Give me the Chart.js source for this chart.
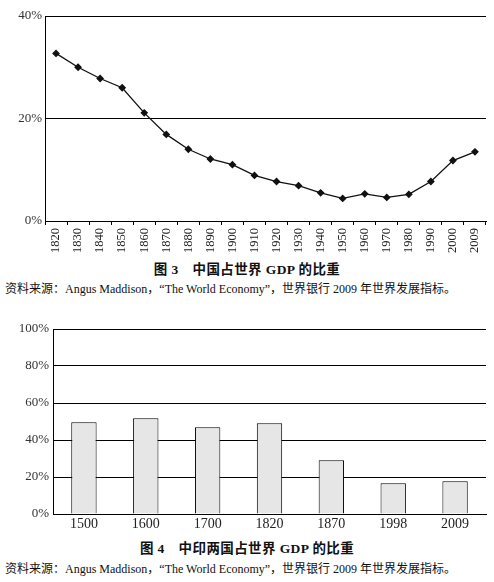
<!DOCTYPE html>
<html>
<head>
<meta charset="utf-8">
<script src="https://cdn.jsdelivr.net/npm/chart.js@4"></script>
<style>
  body { margin: 0; background: #fff; width: 494px; height: 582px; position: relative; overflow: hidden; }
  .box { position: absolute; left: 0; width: 494px; }
  .title { position: absolute; left: 0; width: 494px; text-align: center; font: bold 13.5px "Liberation Serif", "Noto Sans CJK SC", serif; color: #111; line-height: 16px; white-space: pre; letter-spacing: 0.4px; }
  .src { position: absolute; left: 5px; font: 12px "Liberation Serif", "Noto Sans CJK SC", serif; color: #111; line-height: 14px; white-space: pre; }
</style>
</head>
<body>
<div class="box" style="top:0;height:258px"><canvas id="chart1"></canvas></div>
<div class="title" style="top:262px">图 3　中国占世界 GDP 的比重</div>
<div class="src" style="top:282px">资料来源：Angus Maddison，“The World Economy”，世界银行 2009 年世界发展指标。</div>

<div class="box" style="top:310px;height:222px"><canvas id="chart2"></canvas></div>
<div class="title" style="top:541px">图 4　中印两国占世界 GDP 的比重</div>
<div class="src" style="top:562px">资料来源：Angus Maddison，“The World Economy”，世界银行 2009 年世界发展指标。</div>

<script>
// 图3 中国占世界GDP的比重 (%)
const years3 = ['1820', '1830', '1840', '1850', '1860', '1870', '1880', '1890', '1900', '1910',
                '1920', '1930', '1940', '1950', '1960', '1970', '1980', '1990', '2000', '2009'];
const chinaShare = [32.7, 30.0, 27.8, 26.0, 21.1, 16.9, 14.0, 12.1, 11.0, 8.9,
                    7.7, 6.9, 5.5, 4.4, 5.3, 4.6, 5.2, 7.7, 11.8, 13.5];
const yTicks3 = [0, 20, 40];

// 图4 中印两国占世界GDP的比重 (%)
const years4 = ['1500', '1600', '1700', '1820', '1870', '1998', '2009'];
const chinaIndiaShare = [49.6, 51.7, 46.9, 49.0, 29.0, 16.6, 17.7];
const yTicks4 = [0, 20, 40, 60, 80, 100];

const serif = 'Liberation Serif';
const pct = v => v + '%';

new Chart(document.getElementById('chart1'), {
    type: 'line',
    data: {
        labels: years3,
        datasets: [{
            data: chinaShare,
            borderColor: '#111',
            backgroundColor: '#111',
            borderWidth: 1.3,
            pointStyle: 'rectRot',
            pointRadius: 3,
            tension: 0
        }]
    },
    options: {
        responsive: true,
        maintainAspectRatio: false,
        animation: false,
        layout: { padding: { top: 16, right: 8, left: 0, bottom: 0 } },
        plugins: { legend: { display: false }, tooltip: { enabled: false } },
        scales: {
            x: {
                offset: true,
                grid: { offset: true, drawOnChartArea: false, tickLength: 4, color: '#000' },
                border: { color: '#000' },
                ticks: { minRotation: 90, maxRotation: 90, padding: 3, color: '#222', font: { family: serif, size: 12.5 } },
                afterFit: s => { s.height = 37; }
            },
            y: {
                min: yTicks3[0],
                max: yTicks3[yTicks3.length - 1],
                afterBuildTicks: s => { s.ticks = yTicks3.map(v => ({ value: v })); },
                grid: { color: '#000', drawTicks: false },
                border: { color: '#000' },
                ticks: { padding: 3, color: '#333', callback: pct, font: { family: serif, size: 13 } },
                afterFit: s => { s.width = 45; }
            }
        }
    }
});

new Chart(document.getElementById('chart2'), {
    type: 'bar',
    data: {
        labels: years4,
        datasets: [{
            data: chinaIndiaShare,
            backgroundColor: '#e6e6e6',
            borderColor: '#000',
            borderWidth: 1,
            barPercentage: 0.41,
            categoryPercentage: 1
        }]
    },
    options: {
        responsive: true,
        maintainAspectRatio: false,
        animation: false,
        layout: { padding: { top: 19, right: 8, left: 0, bottom: 0 } },
        plugins: { legend: { display: false }, tooltip: { enabled: false } },
        scales: {
            x: {
                grid: { drawOnChartArea: false, drawTicks: false },
                border: { color: '#000' },
                ticks: { padding: 2, color: '#222', font: { family: serif, size: 14 } },
                afterFit: s => { s.height = 18; }
            },
            y: {
                min: yTicks4[0],
                max: yTicks4[yTicks4.length - 1],
                afterBuildTicks: s => { s.ticks = yTicks4.map(v => ({ value: v })); },
                grid: { color: '#000', drawTicks: false },
                border: { color: '#000' },
                ticks: { padding: 4, color: '#333', callback: pct, font: { family: serif, size: 13 } },
                afterFit: s => { s.width = 53; }
            }
        }
    }
});
</script>
</body>
</html>
